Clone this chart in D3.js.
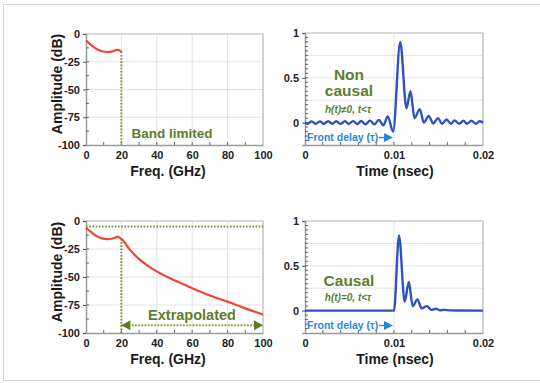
<!DOCTYPE html>
<html><head><meta charset="utf-8">
<script src="https://cdn.jsdelivr.net/npm/d3@7"></script>
<style>
body{margin:0;background:#fff;}
svg{display:block;font-family:"Liberation Sans",Arial,sans-serif;}
</style></head>
<body><svg id="c" width="540" height="383"></svg>
<script>
// ---- data ----
const freqTicks = [0, 20, 40, 60, 80, 100];
const dbTicks = [0, -25, -50, -75, -100];
const timeTicks = [0, 0.01, 0.02];
const ampTicks = [0, 0.5, 1];
const timeTickLabels = ["0", "0.01", "0.02"];
const ampTickLabels = ["0", "0.5", "1"];

const bandFreq = [0, 3, 6, 9, 12, 15, 18, 20];
const bandAmp  = [-6, -10, -13.5, -15.5, -16.2, -15.6, -14.2, -16];

const extFreq = [20, 25, 30, 35, 40, 50, 60, 70, 80, 90, 100];
const extAmp  = [-16, -26, -34, -40, -45, -53, -60, -66.5, -72, -78, -83.5];

const nonCausalTime = [0, 0.0003, 0.00075, 0.0012, 0.0017, 0.0021, 0.0026, 0.0031, 0.0035, 0.0040,
  0.0045, 0.0049, 0.0054, 0.0059, 0.0063, 0.0068, 0.0073, 0.0078, 0.0083, 0.0088, 0.0093, 0.0099,
  0.0107, 0.0114, 0.01185, 0.0123, 0.0129, 0.01335, 0.0139, 0.0144, 0.01495, 0.0154, 0.0159,
  0.0164, 0.0168, 0.0173, 0.0178, 0.0182, 0.0187, 0.0192, 0.0196, 0.0200];
const nonCausalAmp = [0, -0.012, 0.014, -0.013, 0.014, -0.013, 0.015, -0.013, 0.015, -0.014,
  0.016, -0.015, 0.017, -0.016, 0.018, -0.018, 0.022, -0.02, 0.03, -0.03, 0.07, -0.1,
  0.9, 0.16, 0.35, 0.05, 0.15, 0.0, 0.075, -0.01, 0.05, -0.012, 0.035,
  -0.013, 0.025, -0.013, 0.02, -0.012, 0.02, -0.012, 0.015, 0.0];

const causalTime = [0, 0.0099, 0.0100, 0.01056, 0.0112, 0.01167, 0.0121, 0.01263, 0.0131, 0.0137,
  0.0142, 0.0147, 0.0152, 0.0157, 0.0163, 0.0170, 0.0200];
const causalAmp  = [0, 0, 0, 0.84, 0.1, 0.32, 0.05, 0.125, 0.025, 0.05,
  0.008, 0.02, 0.004, 0.008, 0.002, 0.001, 0];

const dottedLevel = -5;   // horizontal reference line (dB)
const arrowLevel = -93;   // extrapolated arrow (dB)
const cutoff = 20;        // band limit (GHz)
const frontDelay = 0.01;  // tau (nsec)

// ---- styles ----
const RED = "#f2452f", BLUE = "#2f52bf", GREEN = "#5e7d2d", DOT = "#7d8f3a", ARROW = "#2c86d6";
const AXIS = "#9a9a9a", GRID = "#e2e2e2";

const svg = d3.select("#c");
svg.append("rect").attr("x", 3.5).attr("y", 4.5).attr("width", 560).attr("height", 376)
  .attr("fill", "#fff").attr("stroke", "#d4d4d4").attr("stroke-width", 1);

function panel(o) {
  const x = d3.scaleLinear().domain(o.xd).range([o.x0, o.x1]);
  const y = d3.scaleLinear().domain(o.yd).range([o.y1, o.y0]);
  const g = svg.append("g");
  g.selectAll(".gx").data(o.gridX).join("line")
    .attr("x1", d => x(d)).attr("x2", d => x(d)).attr("y1", o.y0).attr("y2", o.y1)
    .attr("stroke", GRID).attr("stroke-width", 1);
  g.selectAll(".gy").data(o.gridY).join("line")
    .attr("x1", o.x0).attr("x2", o.x1).attr("y1", d => y(d)).attr("y2", d => y(d))
    .attr("stroke", GRID).attr("stroke-width", 1);
  g.append("path").attr("d", `M${o.x0},${o.y0}H${o.x1}V${o.y1}`).attr("fill", "none")
    .attr("stroke", "#b5b5b5").attr("stroke-width", 1.2);
  const ax = d3.axisBottom(x).tickValues(o.xTicks).tickFormat((d, i) => o.xLabels[i]).tickSize(0).tickPadding(6);
  const gx = g.append("g").attr("transform", `translate(0,${o.y1})`).call(ax);
  const ay = d3.axisLeft(y).tickValues(o.yTicks).tickFormat((d, i) => o.yLabels[i]).tickSize(3).tickPadding(3);
  const gy = g.append("g").attr("transform", `translate(${o.x0},0)`).call(ay);
  [gx, gy].forEach(a => {
    a.select(".domain").attr("stroke", AXIS).attr("stroke-width", 1.5);
    a.selectAll(".tick line").attr("stroke", "#555");
    a.selectAll("text").attr("fill", "#222").attr("font-size", 11).attr("font-weight", "bold")
      .attr("font-family", "Liberation Sans, Arial, sans-serif");
  });
  g.selectAll(".mx").data(o.minorX).join("line")
    .attr("x1", d => x(d)).attr("x2", d => x(d)).attr("y1", o.y1).attr("y2", o.y1 - 3)
    .attr("stroke", "#666").attr("stroke-width", 1);
  g.selectAll(".my").data(o.minorY).join("line")
    .attr("x1", o.x0).attr("x2", o.x0 + 3).attr("y1", d => y(d)).attr("y2", d => y(d))
    .attr("stroke", "#666").attr("stroke-width", 1);
  return {x, y, g};
}

const leftCommon = {
  xd: [0, 100], yd: [-100, 0], xTicks: freqTicks, xLabels: freqTicks.map(String),
  yTicks: dbTicks, yLabels: dbTicks.map(String), gridX: [20, 40, 60, 80], gridY: [-25, -50, -75],
  minorX: d3.range(10, 100, 10), minorY: d3.range(-87.5, 0, 12.5)
};
const rightCommon = {
  xd: [0, 0.02], yd: [-0.25, 1], xTicks: timeTicks, xLabels: timeTickLabels,
  yTicks: ampTicks, yLabels: ampTickLabels, gridX: [0.01], gridY: [0.25, 0.5, 0.75],
  minorX: d3.range(0.002, 0.02, 0.002), minorY: d3.range(-0.2, 1, 0.05)
};

const TL = panel(Object.assign({x0: 86, x1: 263, y0: 34, y1: 145}, leftCommon));
const BL = panel(Object.assign({x0: 86, x1: 263, y0: 221, y1: 333}, leftCommon));
const TR = panel(Object.assign({x0: 305, x1: 483, y0: 33, y1: 145}, rightCommon));
const BR = panel(Object.assign({x0: 305, x1: 483, y0: 221, y1: 333}, rightCommon));

const zip = (a, b) => a.map((v, i) => [v, b[i]]);

function dotted(P, pts) {
  P.g.append("path").attr("d", d3.line().x(d => P.x(d[0])).y(d => P.y(d[1]))(pts))
    .attr("fill", "none").attr("stroke", DOT).attr("stroke-width", 2).attr("stroke-dasharray", "1.6,1.6");
}
function redLine(P, data) {
  P.g.append("path").attr("d", d3.line().curve(d3.curveMonotoneX).x(d => P.x(d[0])).y(d => P.y(d[1]))(data))
    .attr("fill", "none").attr("stroke", RED).attr("stroke-width", 2.2);
}
// ---- left top ----
dotted(TL, [[cutoff, bandAmp[bandAmp.length - 1]], [cutoff, -100]]);
redLine(TL, zip(bandFreq, bandAmp));
TL.g.append("text").attr("x", 172).attr("y", 138).attr("text-anchor", "middle")
  .attr("font-size", 13.5).attr("font-weight", "bold").attr("fill", GREEN).text("Band limited");

// ---- left bottom ----
dotted(BL, [[0, dottedLevel], [100, dottedLevel]]);
dotted(BL, [[cutoff, extAmp[0]], [cutoff, -100]]);
redLine(BL, zip(bandFreq, bandAmp).concat(zip(extFreq, extAmp).slice(1)));
dotted(BL, [[cutoff + 0.5, arrowLevel], [99.5, arrowLevel]]);
[[cutoff, 1], [100, -1]].forEach(([f, dir]) => {
  const px = BL.x(f), py = BL.y(arrowLevel);
  BL.g.append("path").attr("d", `M${px},${py}l${dir * 9},-5v10Z`).attr("fill", "#5b7a2a");
});
BL.g.append("text").attr("x", 192).attr("y", 320).attr("text-anchor", "middle")
  .attr("font-size", 14.5).attr("font-weight", "bold").attr("fill", GREEN).text("Extrapolated");

// ---- right panels ----
function blueLine(P, data) {
  P.g.append("path").attr("d", d3.line().curve(d3.curveMonotoneX).x(d => P.x(d[0])).y(d => P.y(d[1]))(data))
    .attr("fill", "none").attr("stroke", BLUE).attr("stroke-width", 2.4).attr("stroke-linejoin", "round");
}
blueLine(TR, zip(nonCausalTime, nonCausalAmp));
blueLine(BR, zip(causalTime, causalAmp));

function frontDelayLabel(P, by) {
  P.g.append("text").attr("x", 307).attr("y", by).attr("font-size", 10.5).attr("font-weight", "bold")
    .attr("fill", ARROW).text("Front delay (τ)");
  const xe = P.x(frontDelay) - 1, yy = by - 3.5;
  P.g.append("line").attr("x1", xe - 14).attr("x2", xe - 6).attr("y1", yy).attr("y2", yy)
    .attr("stroke", ARROW).attr("stroke-width", 1.3);
  P.g.append("path").attr("d", `M${xe},${yy}l-9,-4.5v9Z`).attr("fill", ARROW);
}
frontDelayLabel(TR, 141);
frontDelayLabel(BR, 329);

function bigText(P, x, y, s, size) {
  P.g.append("text").attr("x", x).attr("y", y).attr("text-anchor", "middle").attr("font-size", size)
    .attr("font-weight", "bold").attr("fill", GREEN).text(s);
}
bigText(TR, 349, 80, "Non", 15.5);
bigText(TR, 349, 96, "causal", 15.5);
bigText(BR, 349, 286, "Causal", 15.5);
function condText(P, y, mid) {
  P.g.append("text").attr("x", 348).attr("y", y).attr("text-anchor", "middle")
    .attr("font-size", 10).attr("font-weight", "bold").attr("font-style", "italic").attr("fill", GREEN)
    .text("h(t)" + mid + "0, t<τ");
}
condText(TR, 113, "≠");
condText(BR, 301, "=");

// ---- axis titles ----
function title(x, y, s, rot) {
  const t = svg.append("text").attr("text-anchor", "middle").attr("font-size", 14).attr("font-weight", "bold")
    .attr("fill", "#1a1a1a").text(s);
  if (rot) t.attr("transform", `translate(${x},${y}) rotate(-90)`);
  else t.attr("x", x).attr("y", y);
}
title(62, 84, "Amplitude (dB)", true);
title(62, 272, "Amplitude (dB)", true);
title(168, 176, "Freq. (GHz)");
title(168, 364, "Freq. (GHz)");
title(395, 176, "Time (nsec)");
title(395, 364, "Time (nsec)");
</script></body></html>
